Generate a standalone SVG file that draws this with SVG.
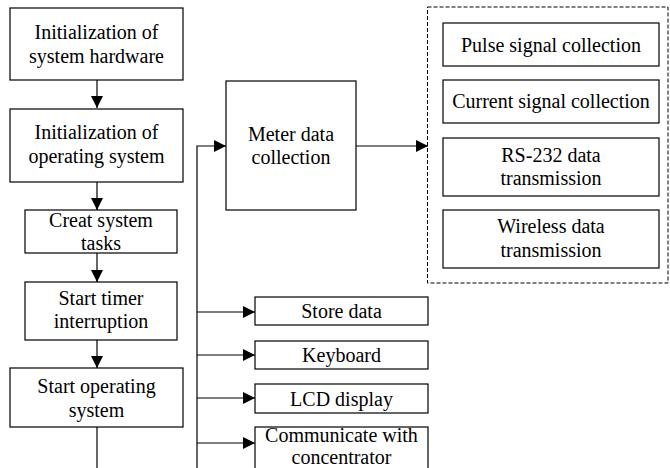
<svg xmlns="http://www.w3.org/2000/svg" width="670" height="468" viewBox="0 0 670 468">
<style>
.box{fill:#fff;stroke:#000;stroke-width:1.2}
.t{font-family:'Liberation Serif','Times New Roman',Times,serif;font-size:20px;fill:#000;text-anchor:middle}
.ln{fill:none;stroke:#000;stroke-width:1.2}
</style>
<defs>
<marker id="ah" markerWidth="12" markerHeight="12" refX="12" refY="6" orient="auto" markerUnits="userSpaceOnUse">
<path d="M0,0 L12,6 L0,12 Z" fill="#000"/>
</marker>
</defs>
<rect width="670" height="468" fill="#fff"/>
<g id="connectors">
<line class="ln" x1="97" y1="80" x2="97" y2="108" marker-end="url(#ah)"/>
<line class="ln" x1="97" y1="182" x2="97" y2="210" marker-end="url(#ah)"/>
<line class="ln" x1="97" y1="253" x2="97" y2="282" marker-end="url(#ah)"/>
<line class="ln" x1="97" y1="340" x2="97" y2="368" marker-end="url(#ah)"/>
<line class="ln" x1="97" y1="427" x2="97" y2="468"/>
<polyline class="ln" points="197,468 197,146 226,146" marker-end="url(#ah)"/>
<line class="ln" x1="356" y1="146" x2="428" y2="146" marker-end="url(#ah)"/>
<line class="ln" x1="197" y1="312" x2="255" y2="312" marker-end="url(#ah)"/>
<line class="ln" x1="197" y1="355" x2="255" y2="355" marker-end="url(#ah)"/>
<line class="ln" x1="197" y1="398" x2="255" y2="398" marker-end="url(#ah)"/>
<line class="ln" x1="197" y1="443" x2="255" y2="443" marker-end="url(#ah)"/>
</g>
<g id="n1"><rect class="box" x="10" y="8" width="173" height="72"/><text class="t" x="96.5" y="39">Initialization of</text><text class="t" x="96.5" y="63">system hardware</text></g>
<g id="n2"><rect class="box" x="10" y="109" width="173" height="73"/><text class="t" x="96.5" y="139">Initialization of</text><text class="t" x="96.5" y="163">operating system</text></g>
<g id="n3"><rect class="box" x="25" y="210" width="152" height="43"/><text class="t" x="101" y="227">Creat system</text><text class="t" x="101" y="250">tasks</text></g>
<g id="n4"><rect class="box" x="25" y="282" width="152" height="58"/><text class="t" x="101" y="305">Start timer</text><text class="t" x="101" y="328">interruption</text></g>
<g id="n5"><rect class="box" x="10" y="368" width="173" height="59"/><text class="t" x="96.5" y="393">Start operating</text><text class="t" x="96.5" y="417">system</text></g>
<g id="meter"><rect class="box" x="226" y="81" width="130" height="129"/><text class="t" x="291" y="141">Meter data</text><text class="t" x="291" y="164">collection</text></g>
<g id="group"><rect x="427.5" y="7" width="240.5" height="276" fill="none" stroke="#000" stroke-width="1" stroke-dasharray="4 2"/></g>
<g id="pulse"><rect class="box" x="443" y="23" width="216" height="43"/><text class="t" x="551" y="52">Pulse signal collection</text></g>
<g id="current"><rect class="box" x="443" y="80" width="216" height="43"/><text class="t" x="551" y="108">Current signal collection</text></g>
<g id="rs232"><rect class="box" x="443" y="138" width="216" height="58"/><text class="t" x="551" y="162">RS-232 data</text><text class="t" x="551" y="185">transmission</text></g>
<g id="wireless"><rect class="box" x="443" y="210" width="216" height="58"/><text class="t" x="551" y="233">Wireless data</text><text class="t" x="551" y="257">transmission</text></g>
<g id="store"><rect class="box" x="255" y="297" width="173" height="28"/><text class="t" x="341.5" y="318">Store data</text></g>
<g id="keyboard"><rect class="box" x="255" y="341" width="173" height="28"/><text class="t" x="341.5" y="362">Keyboard</text></g>
<g id="lcd"><rect class="box" x="255" y="384" width="173" height="29"/><text class="t" x="341.5" y="406">LCD display</text></g>
<g id="comm"><rect class="box" x="255" y="427" width="173" height="45"/><text class="t" x="341.5" y="442">Communicate with</text><text class="t" x="341.5" y="464">concentrator</text></g>
</svg>
